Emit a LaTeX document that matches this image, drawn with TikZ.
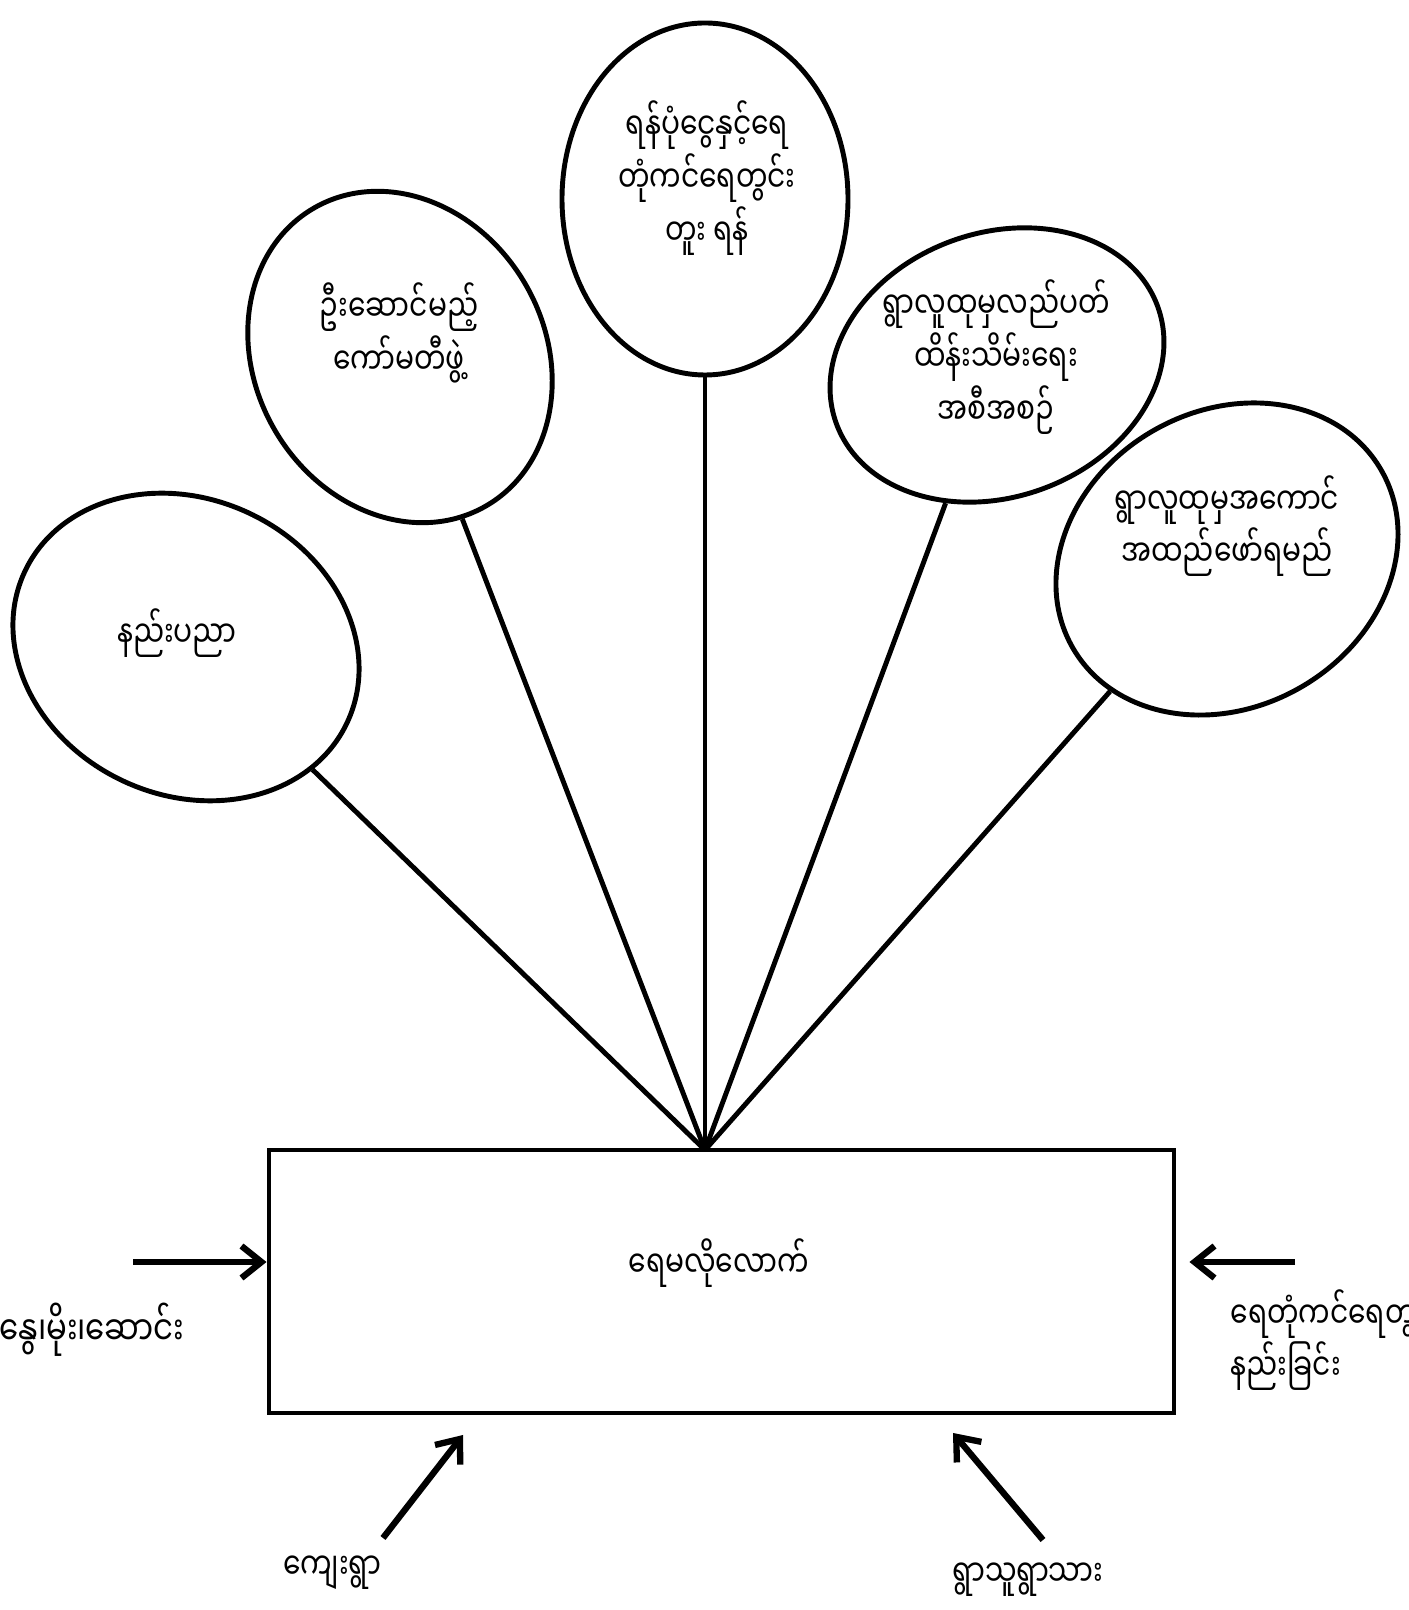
\documentclass[tikz,border=0pt]{standalone}
\usepackage{fontspec}
\newfontfamily\myan[Script=Myanmar, FakeStretch=0.76]{Noto Sans Myanmar UI}
\usetikzlibrary{shapes.geometric,arrows.meta}
\begin{document}
\begin{tikzpicture}[
		bubble/.style={draw, ellipse, line width=1.4pt, inner sep=0pt},
		word/.style={font=\myan\fontsize{10.5}{15}\selectfont, align=center, inner sep=0pt},
		inarrow/.style={-{Straight Barb[length=0.2cm,width=0.32cm]}, line width=1.8pt},
		spoke/.style={line width=1.4pt}
	]
				\fill[white] (0,0) rectangle (14.08,16.10);
				\useasboundingbox (0,0) rectangle (14.08,16.10);
				\node (tech) at (1.86,9.63)     [bubble, minimum width=3.56cm, minimum height=2.96cm, rotate=-25] {};
				\node (cttee) at (4.00,12.53)   [bubble, minimum width=3.44cm, minimum height=2.90cm, rotate=-60] {};
				\node (fund) at (7.05,14.11)    [bubble, minimum width=2.86cm, minimum height=3.52cm] {};
				\node (plan) at (9.97,12.45)    [bubble, minimum width=3.42cm, minimum height=2.64cm, rotate=20] {};
				\node (impl) at (12.27,10.51)   [bubble, minimum width=3.56cm, minimum height=2.96cm, rotate=30] {};
				\node (techtxt) at (1.77,9.77)  [word] {နည်းပညာ};
				\node (ctteetxt) at (3.99,12.77) [word] {ဦးဆောင်မည့်\\ကော်မတီဖွဲ့};
				\node (fundtxt) at (7.07,14.32) [word] {ရန်ပုံငွေနှင့်ရေ\\တုံကင်ရေတွင်း\\တူး ရန်};
				\node (plantxt) at (9.96,12.53) [word] {ရွာလူထုမှလည်ပတ်\\ထိန်းသိမ်းရေး\\အစီအစဉ်};
				\node (impltxt) at (12.27,10.84) [word] {ရွာလူထုမှအကောင်\\အထည်ဖော်ရမည်};
				\node (tank) at (7.215,3.285)   [draw, line width=1.4pt, minimum width=9.05cm, minimum height=2.63cm] {};
				\node (tanktxt) at (7.19,3.47)  [word] {ရေမလိုလောက်};
				\coordinate (hub) at (7.05,4.60);
				\draw[spoke] (tech) -- (hub);
				\draw[spoke] (cttee) -- (hub);
				\draw[spoke] (fund) -- (hub);
				\draw[spoke] (plan) -- (hub);
				\draw[spoke] (impl) -- (hub);
				% what feeds the shortage
				\node (seasons) at (1.85,2.80)  [word, anchor=east, font=\myan\fontsize{11.5}{15}\selectfont] {နွေ၊မိုး၊ဆောင်း};
				\node (wells) at (12.30,2.70)   [word, anchor=west, align=left] {ရေတုံကင်ရေတွင်း\\နည်းခြင်း};
				\node (village) at (3.32,0.37)  [word] {ကျေးရွာ};
				\node (villagers) at (10.28,0.30) [word] {ရွာသူရွာသား};
				\coordinate (w) at (1.33,3.48);
				\coordinate (e) at (12.95,3.48);
				\coordinate (sw) at (3.83,0.72);
				\coordinate (swtip) at (4.63,1.75);
				\coordinate (se) at (10.43,0.70);
				\coordinate (setip) at (9.53,1.77);
				\draw[inarrow] (w) -- (w -| tank.west);
				\draw[inarrow, shorten >=0.13cm] (e) -- (e -| tank.east);
				\draw[inarrow] (sw) -- (swtip);
				\draw[inarrow] (se) -- (setip);
			\end{tikzpicture}
\end{document}
